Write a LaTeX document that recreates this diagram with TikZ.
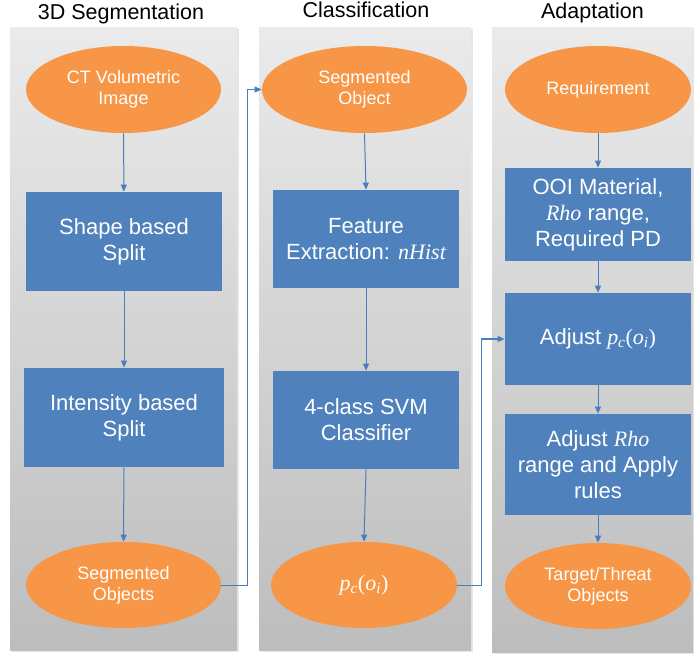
\documentclass[tikz,border=0pt]{standalone}
\usepackage{fontspec}
\setmainfont{Liberation Sans}
\newfontfamily\timesfont{Liberation Serif}
\usetikzlibrary{shapes.geometric,arrows.meta,shadows}

\newcommand{\vname}[1]{{\timesfont\itshape #1}}
\newcommand{\pcoi}{\vname{p}\textsubscript{\vname{c}}{\timesfont(}\vname{o}\textsubscript{\vname{i}}{\timesfont)}}

\definecolor{stepblue}{RGB}{79,129,189}
\definecolor{termorange}{RGB}{247,150,70}
\definecolor{arrowblue}{RGB}{74,126,187}

\tikzset{
  every picture/.style={line width=0.75pt},
  lane/.style={top color=black!8, bottom color=black!26, draw=none, drop shadow={shadow xshift=1.5pt, shadow yshift=-1.5pt, opacity=0.2}},
  terminal/.style={ellipse, fill=termorange, text=white, inner sep=0pt, align=center, font=\fontsize{18}{21}\selectfont},
  stepbox/.style={rectangle, fill=stepblue, text=white, inner sep=0pt, align=center, font=\fontsize{22}{26}\selectfont},
  lanetitle/.style={anchor=base, font=\fontsize{21.5}{26}\selectfont},
  flow/.style={draw=arrowblue, line width=1pt, -{Triangle[length=7pt,width=6pt]}},
}

\begin{document}
\begin{tikzpicture}[x=1pt,y=1pt,yscale=-1,xscale=1]
	\useasboundingbox (0,0) rectangle (694,655);
	
	%lanes
	\path[lane] (10,28) rectangle (237,650);
	\path[lane] (259,28) rectangle (471,650);
	\path[lane] (492,28) rectangle (693,652);
	
	%lane titles
	\node[lanetitle] (segtitle) at (121,20) {3D Segmentation};
	\node[lanetitle] (clstitle) at (366,18) {Classification};
	\node[lanetitle] (adptitle) at (592.5,19) {Adaptation};
	
	%3D segmentation
	\node[terminal, minimum width=195, minimum height=87] (ctimage) at (123.5,89.5) {CT Volumetric\\Image};
	\node[stepbox, minimum width=196, minimum height=99] (shapesplit) at (124,241.5) {Shape based\\Split};
	\node[stepbox, minimum width=200, minimum height=99] (intsplit) at (124,417.5) {Intensity based\\Split};
	\node[terminal, minimum width=195, minimum height=86] (segobjs) at (123.5,585) {Segmented\\Objects};
	
	%classification
	\node[terminal, minimum width=205, minimum height=87] (segobj) at (364.5,89.5) {Segmented\\Object};
	\node[stepbox, minimum width=186, minimum height=98] (featext) at (366,239) {Feature\\Extraction: \vname{nHist}};
	\node[stepbox, minimum width=186, minimum height=98] (svmcls) at (366,420) {4-class SVM\\Classifier};
	\node[terminal, minimum width=186, minimum height=86, font=\fontsize{22}{26}\selectfont] (pcoi) at (364,585) {\pcoi};
	
	%adaptation
	\node[terminal, minimum width=186, minimum height=87] (require) at (598,89.5) {Requirement};
	\node[stepbox, minimum width=186, minimum height=93] (ooimat) at (598,214.5) {OOI Material,\\\vname{Rho} range,\\Required PD};
	\node[stepbox, minimum width=186, minimum height=92] (adjpc) at (598,339) {Adjust \pcoi};
	\node[stepbox, minimum width=186, minimum height=101] (adjrho) at (598,464.5) {Adjust \vname{Rho}\\range and Apply\\rules};
	\node[terminal, minimum width=186, minimum height=86] (threat) at (598,586) {Target/Threat\\Objects};
	
	%connectors
	\draw[flow] (ctimage) -- (shapesplit);
	\draw[flow] (shapesplit) -- (intsplit);
	\draw[flow] (intsplit) -- (segobjs);
	\draw[flow] (segobj.south) -- (featext.north);
	\draw[flow] (featext) -- (svmcls);
	\draw[flow] (svmcls.south) -- (pcoi.north);
	\draw[flow] (require) -- (ooimat);
	\draw[flow] (ooimat) -- (adjpc);
	\draw[flow] (adjpc) -- (adjrho);
	\draw[flow] (adjrho) -- (threat);
	\draw[flow] (segobjs.east) -- ++(26,0) |- (segobj.west);
	\draw[flow] (pcoi.east) -- ++(24,0) |- (adjpc.west);
	
\end{tikzpicture}
\end{document}
